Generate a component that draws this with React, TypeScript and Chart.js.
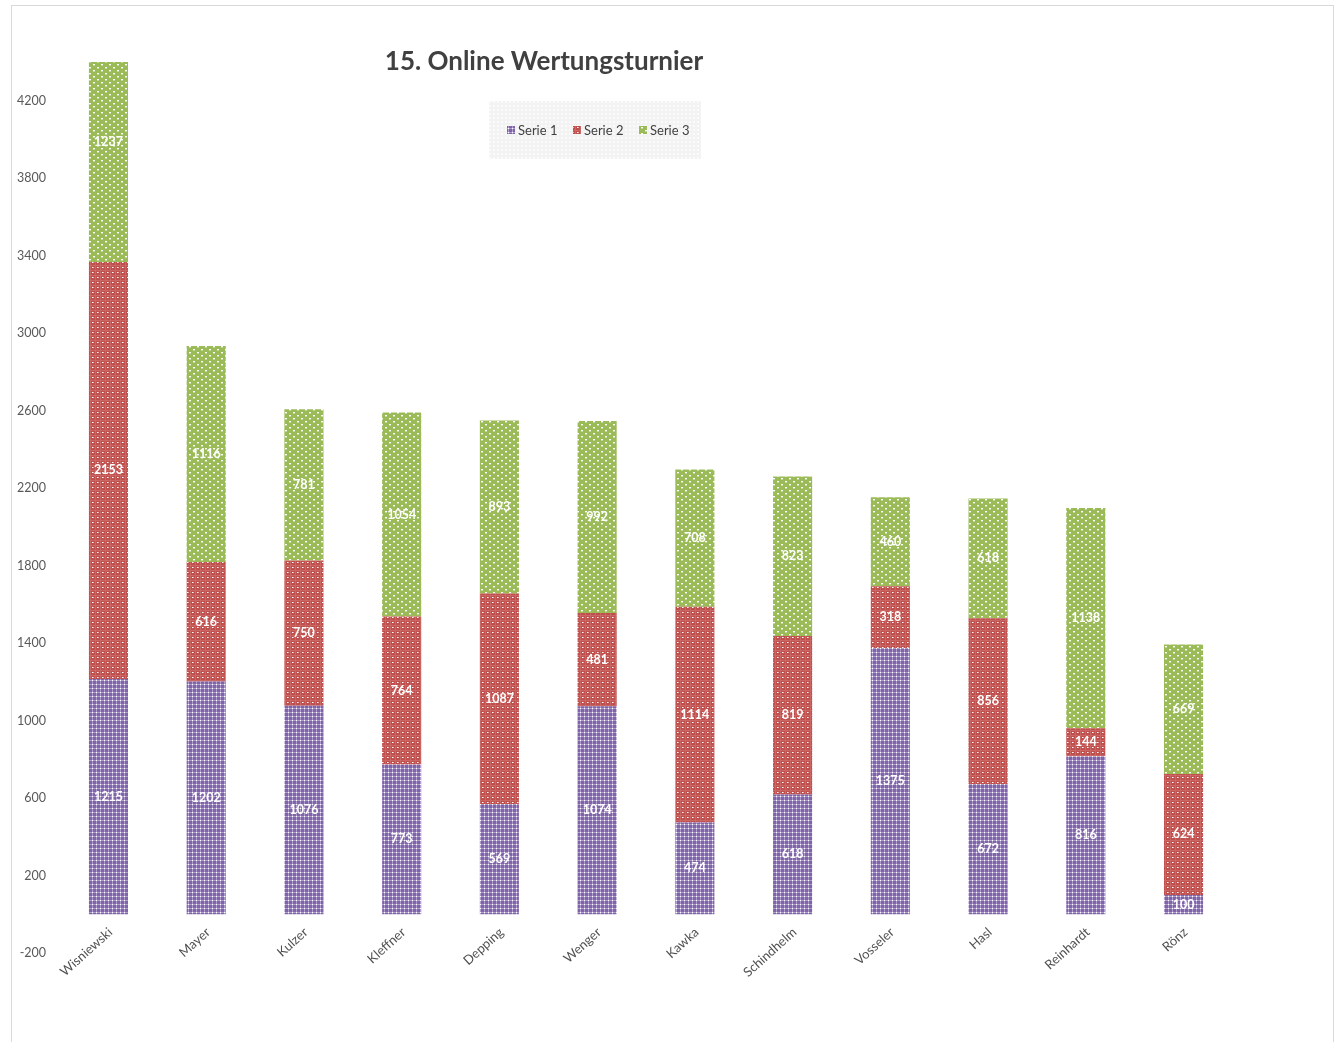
import React, { useEffect, useRef } from "react";
import { Chart, registerables } from "chart.js";

Chart.register(...registerables);

const categories = ["Wisniewski", "Mayer", "Kulzer", "Kleffner", "Depping", "Wenger", "Kawka", "Schindhelm", "Vosseler", "Hasl", "Reinhardt", "Rönz"];
const serie1 = [1215, 1202, 1076, 773, 569, 1074, 474, 618, 1375, 672, 816, 100];
const serie2 = [2153, 616, 750, 764, 1087, 481, 1114, 819, 318, 856, 144, 624];
const serie3 = [1237, 1116, 781, 1054, 893, 992, 708, 823, 460, 618, 1138, 669];
const seriesNames = ["Serie 1", "Serie 2", "Serie 3"];
const yTicks = [-200, 200, 600, 1000, 1400, 1800, 2200, 2600, 3000, 3400, 3800, 4200];
const chartTitle = "15. Online Wertungsturnier";

const FONT = "Lato, 'Open Sans', sans-serif";

function makePattern(kind: number): CanvasPattern | string {
  const c = document.createElement("canvas");
  const ctx = c.getContext("2d");
  if (!ctx) return "#888";
  if (kind === 0) {
    c.width = 4; c.height = 4;
    ctx.fillStyle = "#8064a8";
    ctx.fillRect(0, 0, 4, 4);
    ctx.fillStyle = "#ae9ccc";
    ctx.fillRect(0, 0, 4, 1);
    ctx.fillRect(0, 0, 1, 4);
    ctx.fillStyle = "#ffffff";
    ctx.fillRect(0, 0, 1, 1);
  } else if (kind === 1) {
    c.width = 5; c.height = 5;
    ctx.fillStyle = "#c0504d";
    ctx.fillRect(0, 0, 5, 5);
    ctx.fillStyle = "#ca6663";
    ctx.fillRect(0, 0, 5, 1);
    ctx.fillRect(0, 0, 1, 5);
    ctx.fillStyle = "#ffffff";
    ctx.fillRect(2, 2, 1, 1);
    ctx.fillStyle = "#e6b0ae";
    ctx.fillRect(3, 2, 1, 1);
  } else if (kind === 2) {
    c.width = 8; c.height = 6;
    ctx.fillStyle = "#9bbb59";
    ctx.fillRect(0, 0, 8, 6);
    ctx.fillStyle = "#ffffff";
    ctx.fillRect(1, 1, 2, 1);
    ctx.fillRect(5, 4, 2, 1);
    ctx.fillStyle = "#c3d79b";
    ctx.fillRect(1, 2, 2, 1);
    ctx.fillRect(5, 5, 2, 1);
  } else {
    c.width = 4; c.height = 4;
    ctx.fillStyle = "#f3f3f3";
    ctx.fillRect(0, 0, 4, 4);
    ctx.fillStyle = "#fbfbfb";
    ctx.fillRect(1, 1, 2, 2);
  }
  const p = ctx.createPattern(c, "repeat");
  return p || "#888";
}

const overlayPlugin = {
  id: "overlay",
  afterDatasetsDraw(chart: any) {
    const ctx = chart.ctx;
    const y = chart.scales.y;
    const x = chart.scales.x;
    const ds = chart.data.datasets;
    ctx.save();
    ctx.font = `bold 12.5px ${FONT}`;
    ctx.fillStyle = "#ffffff";
    ctx.textAlign = "center";
    ctx.textBaseline = "middle";
    for (let j = 0; j < categories.length; j++) {
      let base = 0;
      for (let i = 0; i < ds.length; i++) {
        const v = ds[i].data[j] as number;
        const el = chart.getDatasetMeta(i).data[j];
        const yp = y.getPixelForValue(base + v / 2);
        ctx.fillText(String(v), el.x, yp);
        base += v;
      }
    }
    const zeroY = y.getPixelForValue(0);
    ctx.font = `13px ${FONT}`;
    ctx.fillStyle = "#505050";
    ctx.textAlign = "right";
    ctx.textBaseline = "middle";
    categories.forEach((c, j) => {
      const xp = x.getPixelForValue(j);
      ctx.save();
      ctx.translate(xp + 2, zeroY + 16);
      ctx.rotate((-42 * Math.PI) / 180);
      ctx.fillText(c, 0, 0);
      ctx.restore();
    });
    ctx.restore();
  },
  afterDraw(chart: any) {
    const ctx = chart.ctx;
    ctx.save();
    ctx.font = `bold 26px ${FONT}`;
    ctx.fillStyle = "#404040";
    ctx.textAlign = "center";
    ctx.textBaseline = "middle";
    ctx.fillText(chartTitle, 544, 62);
    ctx.fillStyle = makePattern(3) as any;
    ctx.fillRect(489, 101, 212, 58);
    ctx.font = `13px ${FONT}`;
    ctx.textAlign = "left";
    ctx.textBaseline = "middle";
    const xs = [507, 573, 639];
    chart.data.datasets.forEach((d: any, i: number) => {
      ctx.fillStyle = d.backgroundColor;
      ctx.fillRect(xs[i], 126, 8, 8);
      ctx.fillStyle = "#404040";
      ctx.fillText(seriesNames[i], xs[i] + 11, 130.5);
    });
    ctx.restore();
  },
};

export default function App() {
  const ref = useRef<HTMLCanvasElement>(null);
  useEffect(() => {
    if (!ref.current) return;
    const patterns = [makePattern(0), makePattern(1), makePattern(2)];
    const chart = new Chart(ref.current, {
      type: "bar",
      data: {
        labels: categories,
        datasets: [serie1, serie2, serie3].map((d, i) => ({
          label: seriesNames[i],
          data: d,
          backgroundColor: patterns[i] as any,
          borderWidth: 0,
          barPercentage: 0.4,
          categoryPercentage: 1,
        })),
      },
      options: {
        responsive: false,
        animation: false,
        devicePixelRatio: 1,
        layout: { padding: { left: 0, top: 62, right: 108.6, bottom: 0 } },
        plugins: {
          legend: { display: false },
          title: { display: false },
          tooltip: { enabled: false },
        },
        scales: {
          x: {
            stacked: true,
            grid: { display: false, drawTicks: false },
            border: { display: false },
            ticks: { display: false },
            afterFit: (s: any) => { s.height = 89; },
          },
          y: {
            stacked: true,
            min: -200,
            max: 4400,
            grid: { display: false, drawTicks: false },
            border: { display: false },
            ticks: {
              padding: 13.5,
              color: "#595959",
              font: { family: FONT, size: 12.5 },
              callback: (v: any) => String(v),
            },
            afterBuildTicks: (s: any) => { s.ticks = yTicks.map((v) => ({ value: v })); },
            afterFit: (s: any) => { s.width = 59.6; },
          },
        },
      },
      plugins: [overlayPlugin],
    });
    return () => chart.destroy();
  }, []);
  return (
    <div style={{ position: "absolute", left: 0, top: 0, width: 1341, height: 1042, overflow: "hidden", background: "#fff" }}>
      <div style={{ position: "absolute", left: 11, top: 5, width: 1323, height: 1100, border: "1px solid #d9d9d9", boxSizing: "border-box" }} />
      <canvas ref={ref} width={1341} height={1042} style={{ position: "absolute", left: 0, top: 0, width: 1341, height: 1042 }} />
    </div>
  );
}
